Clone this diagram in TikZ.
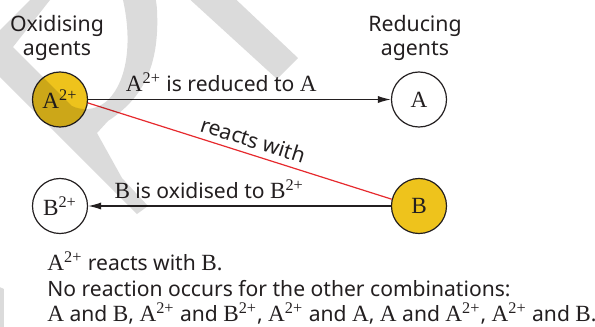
\documentclass[tikz,border=0pt]{standalone}
\usepackage{fontspec}
\setmainfont{Noto Sans}
\newfontfamily\elfont{Liberation Serif}[Scale=1.1]
\usetikzlibrary{arrows.meta,positioning}
\definecolor{ink}{HTML}{231F20}
\definecolor{agentfill}{HTML}{EEC31C}
\definecolor{reactline}{HTML}{E62A2E}
\definecolor{watermark}{HTML}{DBDBDB}
\newcommand{\el}[1]{{\elfont #1}}
\newcommand{\ion}[1]{{\elfont #1\textsuperscript{2+}}}

\begin{document}
\begin{tikzpicture}[x=0.0175cm, y=-0.0175cm, >={Latex[length=6.5pt,width=3.6pt]},
  font=\fontsize{10.5}{12}\selectfont, text=ink,
  agent/.style={draw=ink, circle, line width=0.6pt, minimum size=27.4pt, inner sep=0pt},
  filled/.style={fill=agentfill},
  head/.style={align=center, font=\fontsize{10.6}{12.4}\selectfont},
  conv/.style={->, draw=ink, line width=0.7pt},
  summary/.style={anchor=base west, inner sep=0pt}]
  \useasboundingbox (0,0) rectangle (595,327);

  % agents
  \node[agent, filled] (oxA) at (60,99.5) {\ion{A}};
  \node[agent] (redA) at (419,99.5) {\el{A}};
  \node[agent] (oxB) at (60,206) {\ion{B}};
  \node[agent, filled] (redB) at (419,206) {\el{B}};
  \node[head] (oxhead) at (57,38) {Oxidising\\agents};
  \node[head] (redhead) at (415,38) {Reducing\\agents};

  % reactions
  \draw[conv] (oxA) -- node[above, pos=0.44] (redtext) {\ion{A} is reduced to \el{A}} (redA);
  \draw[conv] (redB) -- node[above, pos=0.6] (oxtext) {\el{B} is oxidised to \ion{B}} (oxB);
  \draw[draw=reactline, line width=0.6pt] (oxA.-7) -- node[sloped, above, pos=0.53, inner sep=3pt, text=ink] (reacts) {reacts with} (redB.166);

  % conclusion
  \node[summary] (sum1) at (47,270.5) {\ion{A} reacts with \el{B}.};
  \node[summary] (sum2) at ([yshift=-12.8pt]sum1.base west) {No reaction occurs for the other combinations:};
  \node[summary] (sum3) at ([yshift=-12.8pt]sum2.base west)
    {\el{A} and \el{B}, \ion{A} and \ion{B}, \ion{A} and \el{A}, \el{A} and \ion{A}, \ion{A} and \el{B}.};

  % watermark
  \begin{scope}[blend mode=multiply]
    \clip (0,0) rectangle (595,327);
    \fill[watermark, even odd rule]
      (-80,-3) -- (137,214) -- (148,206) -- (122,178) -- (97,133) -- (108,121)
        .. controls (140,100) and (160,70) .. (157,10)
        .. controls (155,-40) and (100,-60) .. (60,-30) -- (-30,60) -- cycle
      (13,47) -- (50,0) -- (65,-25) .. controls (85,-40) and (110,-30) .. (123,0)
        .. controls (132,40) and (128,80) .. (108,100)
        .. controls (95,112) and (80,110) .. (72,106) -- cycle;
    \fill[watermark] (150,-37) -- (277,79) -- (298,58) -- (200,-34.5) -- cycle;
    \fill[watermark] (-5,285) -- (4,289) -- (4,330) -- (-5,330) -- cycle;
  \end{scope}
\end{tikzpicture}
\end{document}
